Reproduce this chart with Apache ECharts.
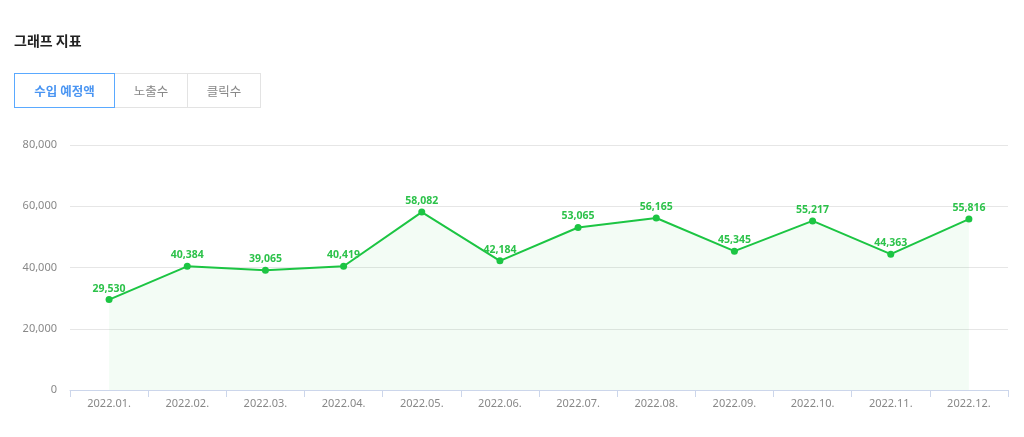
<!DOCTYPE html>
<html>
<head>
<meta charset="utf-8">
<script src="https://cdn.jsdelivr.net/npm/echarts@6/dist/echarts.min.js"></script>
<style>
    html, body { margin: 0; padding: 0; background: #fff; }
    body { width: 1024px; height: 437px; position: relative; overflow: hidden;
           font-family: "Noto Sans CJK KR", "Noto Sans", sans-serif; }
    .title { position: absolute; left: 14px; top: 30px; font-size: 14px; font-weight: bold; color: #222; }
    .tabs { position: absolute; left: 14px; top: 73px; display: flex; }
    .tab { height: 33px; line-height: 33px; border: 1px solid #e3e3e3; margin-left: -1px;
           font-size: 12.5px; color: #888; text-align: center; box-sizing: content-box; }
    .tab.on { border-color: #5aa9ff; color: #4a95f2; font-weight: bold; margin-left: 0; position: relative; z-index: 1; }
    #chart { position: absolute; left: 0; top: 0; width: 1024px; height: 437px; }
</style>
</head>
<body>
<div id="chart"></div>
<div class="title">그래프 지표</div>
<div class="tabs">
    <div class="tab on" style="width:99px">수입 예정액</div>
    <div class="tab" style="width:72px">노출수</div>
    <div class="tab" style="width:72px">클릭수</div>
</div>
<script>
    // 월별 수입 예정액
    var months = ['2022.01.', '2022.02.', '2022.03.', '2022.04.', '2022.05.', '2022.06.',
                  '2022.07.', '2022.08.', '2022.09.', '2022.10.', '2022.11.', '2022.12.'];
    var revenue = [29530, 40384, 39065, 40419, 58082, 42184, 53065, 56165, 45345, 55217, 44363, 55816];
    var yTicks = [0, 20000, 40000, 60000, 80000];

    var green = '#1cc543';
    var Chart = echarts.init(document.getElementById('chart'));
    Chart.setOption({
        animation: false,
        grid: {
            left: 70,
            right: 16,
            top: 145,
            bottom: 47
        },
        xAxis: {
            type: 'category',
            data: months,
            boundaryGap: true,
            axisLine: { lineStyle: { color: '#ccd6eb' } },
            axisTick: { show: true, alignWithLabel: false, length: 7, lineStyle: { color: '#ccd6eb' } },
            axisLabel: { color: '#888', fontSize: 11, margin: 8, fontFamily: 'Noto Sans' }
        },
        yAxis: {
            type: 'value',
            min: yTicks[0],
            max: yTicks[yTicks.length - 1],
            interval: 20000,
            axisLine: { show: false },
            axisTick: { show: false },
            splitLine: { lineStyle: { color: '#e6e6e6' } },
            axisLabel: {
                color: '#888',
                fontSize: 11,
                margin: 13,
                fontFamily: 'Noto Sans',
                formatter: function (v) { return echarts.format.addCommas(v); }
            }
        },
        series: [
            {
                type: 'line',
                data: revenue,
                symbol: 'circle',
                symbolSize: 7,
                itemStyle: { color: green },
                lineStyle: { color: green, width: 2 },
                areaStyle: { color: 'rgba(28,197,67,0.07)' },
                label: {
                    show: true,
                    position: 'top',
                    distance: 2,
                    color: '#2cc24a',
                    fontSize: 10.5,
                    fontWeight: 'bold',
                    fontFamily: 'Noto Sans',
                    formatter: function (p) { return echarts.format.addCommas(p.value); }
                }
            }
        ]
    });
</script>
</body>
</html>
